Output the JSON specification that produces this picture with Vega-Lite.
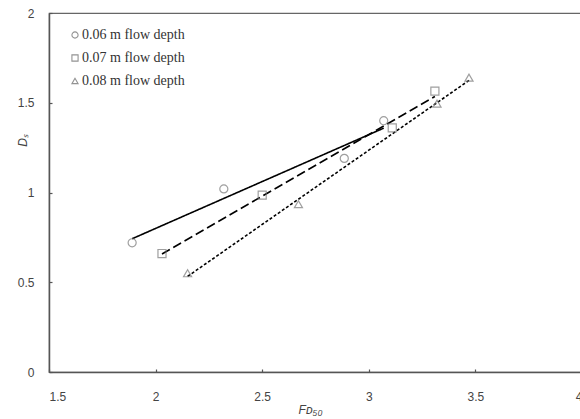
{
  "$schema": "https://vega.github.io/schema/vega-lite/v6.json",
  "width": 533,
  "height": 359,
  "autosize": "none",
  "padding": {"left": 49, "top": 13, "right": 0, "bottom": 47},
  "background": "white",
  "config": {
    "view": {"stroke": "#666", "strokeWidth": 1.2},
    "axis": {
      "grid": false,
      "domainColor": "#555",
      "domainWidth": 1.5,
      "tickColor": "#555",
      "tickSize": -3,
      "tickWidth": 1.2,
      "labelFont": "Liberation Sans",
      "labelFontSize": 12,
      "labelColor": "#444",
      "titleFont": "Liberation Sans",
      "titleFontSize": 12,
      "titleFontWeight": "normal",
      "titleFontStyle": "italic",
      "titleColor": "#444"
    }
  },
  "data": {
    "values": [
      {"depth": "0.06 m flow depth", "F": 1.89, "Ds": 0.72},
      {"depth": "0.06 m flow depth", "F": 2.32, "Ds": 1.02},
      {"depth": "0.06 m flow depth", "F": 2.885, "Ds": 1.19},
      {"depth": "0.06 m flow depth", "F": 3.07, "Ds": 1.40},
      {"depth": "0.07 m flow depth", "F": 2.03, "Ds": 0.66},
      {"depth": "0.07 m flow depth", "F": 2.50, "Ds": 0.985},
      {"depth": "0.07 m flow depth", "F": 3.11, "Ds": 1.36},
      {"depth": "0.07 m flow depth", "F": 3.31, "Ds": 1.565},
      {"depth": "0.08 m flow depth", "F": 2.15, "Ds": 0.55},
      {"depth": "0.08 m flow depth", "F": 2.67, "Ds": 0.935},
      {"depth": "0.08 m flow depth", "F": 3.32, "Ds": 1.495},
      {"depth": "0.08 m flow depth", "F": 3.47, "Ds": 1.64}
    ]
  },
  "resolve": {"legend": {"shape": "independent", "strokeDash": "independent"}, "scale": {"shape": "independent", "strokeDash": "independent"}},
  "layer": [
    {
      "transform": [{"regression": "Ds", "on": "F", "groupby": ["depth"]}],
      "mark": {"type": "line", "color": "black", "strokeWidth": 1.6},
      "encoding": {
        "x": {"field": "F", "type": "quantitative", "scale": {"domain": [1.5, 4], "nice": false}},
        "y": {"field": "Ds", "type": "quantitative", "scale": {"domain": [0, 2], "nice": false}},
        "strokeDash": {
          "field": "depth", "type": "nominal",
          "scale": {"domain": ["0.06 m flow depth", "0.07 m flow depth", "0.08 m flow depth"], "range": [[1, 0], [9, 4], [3, 2]]},
          "legend": null
        }
      }
    },
    {
      "mark": {"type": "point", "filled": false, "color": "#777", "strokeWidth": 1.2, "size": 65},
      "encoding": {
        "x": {
          "field": "F", "type": "quantitative",
          "scale": {"domain": [1.5, 4], "nice": false},
          "axis": {"values": [1.5, 2, 2.5, 3, 3.5, 4], "format": "~g", "title": "Fᴅ₅₀", "labelPadding": 22, "titleX": 261, "titleY": 37, "titleBaseline": "middle"}
        },
        "y": {
          "field": "Ds", "type": "quantitative",
          "scale": {"domain": [0, 2], "nice": false},
          "axis": {"values": [0, 0.5, 1, 1.5, 2], "format": "~g", "title": "Dₛ", "labelPadding": 18, "titleX": -27, "titleY": 127, "titleAngle": -90, "titleBaseline": "middle"}
        },
        "shape": {
          "field": "depth", "type": "nominal",
          "scale": {"domain": ["0.06 m flow depth", "0.07 m flow depth", "0.08 m flow depth"], "range": ["circle", "square", "triangle-up"]},
          "legend": {
            "title": null,
            "orient": "none",
            "legendX": 19,
            "legendY": 15,
            "labelFont": "Liberation Serif",
            "labelFontSize": 14,
            "labelColor": "#333",
            "labelOffset": 0,
            "rowPadding": 9,
            "symbolSize": 38,
            "symbolStrokeColor": "#666",
            "symbolStrokeWidth": 1.1,
            "symbolFillColor": "transparent"
          }
        }
      }
    }
  ]
}
